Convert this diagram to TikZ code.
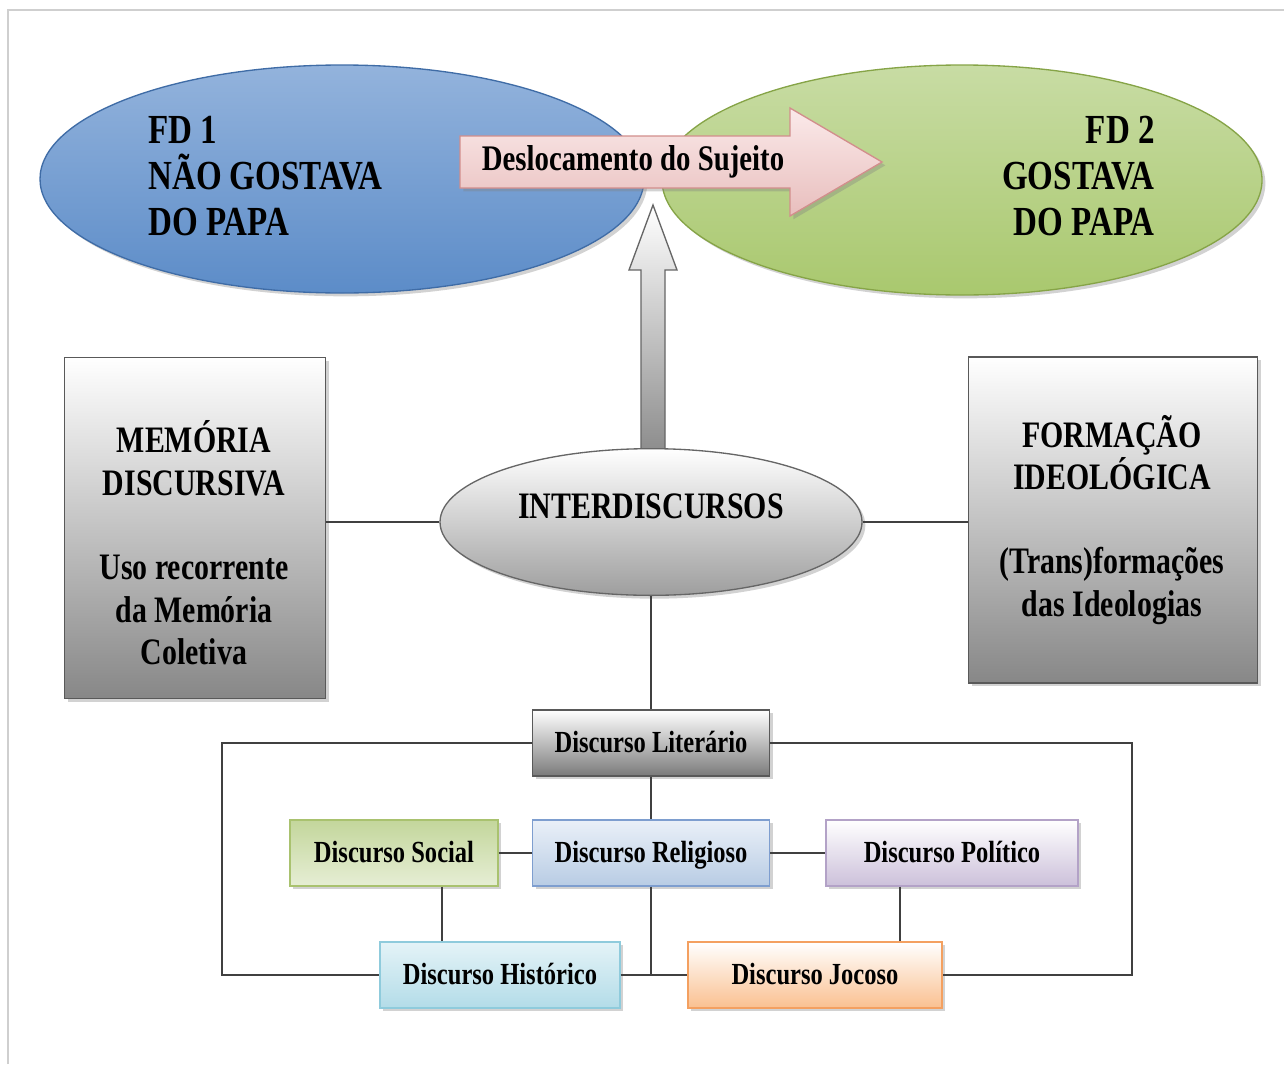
\documentclass[tikz,border=0pt]{standalone}
\usepackage{fontspec}
\setmainfont{Liberation Serif}[FakeStretch=0.8]
\usetikzlibrary{shapes.geometric,shadows,calc}
\definecolor{frameG}{HTML}{CFCFCF}
\definecolor{connC}{HTML}{404040}
\definecolor{bTop}{HTML}{93B3DC}
\definecolor{bMid}{HTML}{4A7EBB}
\definecolor{bBot}{HTML}{5C8CC8}
\definecolor{bDraw}{HTML}{3F6CA6}
\definecolor{gTop}{HTML}{C8DCA4}
\definecolor{gMid}{HTML}{9CBC5A}
\definecolor{gBot}{HTML}{A9C86E}
\definecolor{gDraw}{HTML}{86A447}
\definecolor{pTop}{HTML}{FBEAEA}
\definecolor{pBot}{HTML}{E8BEBD}
\definecolor{pDraw}{HTML}{D28E8C}
\definecolor{relTop}{HTML}{EAF0F8}
\definecolor{relBot}{HTML}{B8CCE4}
\definecolor{relDraw}{HTML}{7E9ECF}
\definecolor{socTop}{HTML}{C3D69B}
\definecolor{socBot}{HTML}{E6EED5}
\definecolor{socDraw}{HTML}{A9C26F}
\definecolor{polTop}{HTML}{FFFFFF}
\definecolor{polBot}{HTML}{CCC0DA}
\definecolor{polDraw}{HTML}{B3A2C7}
\definecolor{hisTop}{HTML}{E4F3F7}
\definecolor{hisBot}{HTML}{B3DCE8}
\definecolor{hisDraw}{HTML}{8FCBDC}
\definecolor{jocTop}{HTML}{FFFFFF}
\definecolor{jocBot}{HTML}{FAC090}
\definecolor{jocDraw}{HTML}{F4A060}
\newcommand\ftbig{\fontsize{28}{32}\selectfont\bfseries}
\newcommand\ftell{\fontsize{31}{34.5}\selectfont\bfseries}
\newcommand\ftinter{\fontsize{28}{32}\selectfont\bfseries}
\newcommand\ftsmall{\fontsize{23}{27}\selectfont\bfseries}
\newcommand\ftdesl{\fontsize{27}{30}\selectfont\bfseries}
\tikzset{
  conn/.style={draw=connC, line width=1.6pt},
  shad/.style={drop shadow={opacity=0.35, shadow xshift=2.5pt, shadow yshift=-2.5pt}},
  bigell/.style={ellipse, line width=1pt, shad},
  graybox/.style={rectangle, draw=black!65, line width=1pt, top color=white, bottom color=black!47, shad},
  smallbox/.style={rectangle, line width=1pt, minimum height=49.5pt, font=\ftsmall,
                   text height=18pt, text depth=4pt, shad},
  txt/.style={font=\ftbig, align=center, inner sep=0pt},
}
\begin{document}
\begin{tikzpicture}[x=0.75pt, y=-0.75pt]
\useasboundingbox (0,0) rectangle (1284,1064);
\fill[white] (0,0) rectangle (1284,1064);
\draw[frameG, line width=1.8pt] (8,1064) -- (8,10) -- (1284,10);

% top ellipses
\node[bigell, draw=bDraw, top color=bTop, middle color=bMid, bottom color=bBot,
      minimum width=453pt, minimum height=171pt] (fd1) at (342,179) {};
\node[bigell, draw=gDraw, top color=gTop, middle color=gMid, bottom color=gBot,
      minimum width=450pt, minimum height=172.5pt] (fd2) at (962,180) {};
\node[font=\ftell, align=left, anchor=west, inner sep=0pt] (fd1t) at (148,176) {FD 1\\NÃO GOSTAVA\\DO PAPA};
\node[font=\ftell, align=right, anchor=east, inner sep=0pt] (fd2t) at (1155,176) {FD 2\\GOSTAVA\\DO PAPA};

% displacement arrow
\coordinate (pa) at (460,162);
\coordinate (ptip) at (882,162);
\draw[draw=pDraw, line width=1pt, top color=pTop, bottom color=pBot, shad]
  ($(pa)+(0,-26)$) -- ($(ptip)+(-92,-26)$) -- ($(ptip)+(-92,-54)$) -- (ptip)
  -- ($(ptip)+(-92,54)$) -- ($(ptip)+(-92,26)$) -- ($(pa)+(0,26)$) -- cycle;
\node[font=\ftdesl, inner sep=0pt] (desl) at (633,162) {Deslocamento do Sujeito};

% interdiscursos
\coordinate (utip) at (653,205);
\draw[draw=black!60, line width=1pt, top color=white, bottom color=black!45]
  (641,452) -- (641,270) -- (629,270) -- (utip) -- (677,270) -- (665,270) -- (665,452) -- cycle;
\node[bigell, draw=black!60, top color=white, bottom color=black!38,
      minimum width=316.5pt, minimum height=110pt] (inter) at (651,522) {};
\node[txt, font=\ftinter] (intert) at (651,506) {INTERDISCURSOS};

% side boxes
\node[graybox, minimum width=196pt, minimum height=256pt] (mem) at (195,528) {};
\node[txt] (memt) at (194,543) {MEMÓRIA\\DISCURSIVA\\[31pt]Uso recorrente\\da Memória\\Coletiva};
\node[graybox, minimum width=217pt, minimum height=244.5pt] (form) at (1113,520) {};
\node[txt] (formt) at (1112,520) {FORMAÇÃO\\IDEOLÓGICA\\[31pt](Trans)formações\\das Ideologias};
\draw[conn] (inter.west) -- (inter.west -| mem.east);
\draw[conn] (inter.east) -- (inter.east -| form.west);

% bottom discourse boxes
\node[smallbox, draw=black!65, top color=white, bottom color=black!52, minimum width=177.75pt] (lit) at (651,743) {Discurso Literário};
\node[smallbox, draw=relDraw, top color=relTop, bottom color=relBot, minimum width=177.75pt] (rel) at (651,853) {Discurso Religioso};
\node[smallbox, draw=socDraw, top color=socTop, bottom color=socBot, minimum width=156pt] (soc) at (394,853) {Discurso Social};
\node[smallbox, draw=polDraw, top color=polTop, bottom color=polBot, minimum width=189pt] (pol) at (952,853) {Discurso Político};
\node[smallbox, draw=hisDraw, top color=hisTop, bottom color=hisBot, minimum width=180pt] (his) at (500,975) {Discurso Histórico};
\node[smallbox, draw=jocDraw, top color=jocTop, bottom color=jocBot, minimum width=190.5pt] (joc) at (815,975) {Discurso Jocoso};

\coordinate (lc) at (222,743);
\coordinate (rc) at (1132,743);
\coordinate (hl) at (442,900);
\coordinate (jl) at (900,900);
\draw[conn] (inter.south) -- (lit.north);
\draw[conn] (lit.south) -- (rel.north);
\draw[conn] (lit.west) -- (lc) |- (his.west);
\draw[conn] (lit.east) -- (rc) |- (joc.east);
\draw[conn] (soc.east) -- (rel.west);
\draw[conn] (rel.east) -- (pol.west);
\draw[conn] (soc.south -| hl) -- (his.north -| hl);
\draw[conn] (pol.south -| jl) -- (joc.north -| jl);
\draw[conn] (rel.south) -- (rel.south |- his.east);
\draw[conn] (his.east) -- (joc.west);
\end{tikzpicture}
\end{document}
